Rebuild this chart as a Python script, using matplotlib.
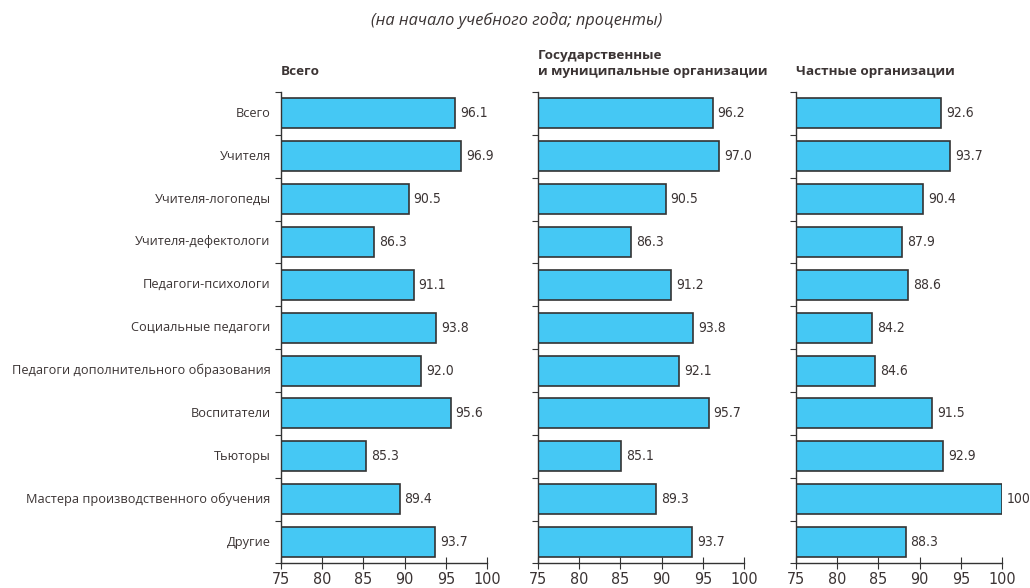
import matplotlib.pyplot as plt
from matplotlib.ticker import FixedLocator

categories = ['Всего', 'Учителя', 'Учителя-логопеды', 'Учителя-дефектологи',
              'Педагоги-психологи', 'Социальные педагоги',
              'Педагоги дополнительного образования', 'Воспитатели', 'Тьюторы',
              'Мастера производственного обучения', 'Другие']
total = [96.1, 96.9, 90.5, 86.3, 91.1, 93.8, 92.0, 95.6, 85.3, 89.4, 93.7]
state = [96.2, 97.0, 90.5, 86.3, 91.2, 93.8, 92.1, 95.7, 85.1, 89.3, 93.7]
private = [92.6, 93.7, 90.4, 87.9, 88.6, 84.2, 84.6, 91.5, 92.9, 100, 88.3]
panel_titles = ['Всего', 'Государственные\nи муниципальные организации', 'Частные организации']
x_ticks = [75, 80, 85, 90, 95, 100]

text_color = '#3b3434'
bar_color = '#45c8f4'
label_font = ['Open Sans', 'DejaVu Sans']

fig = plt.figure(figsize=(10.3, 5.88), dpi=100)
fig.text(0.502, 0.965, '(на начало учебного года; проценты)', ha='center', va='center',
         style='italic', fontsize=11.8, color=text_color, family=label_font)

lefts = [0.2728, 0.5223, 0.7728]
for k, (vals, title) in enumerate(zip([total, state, private], panel_titles)):
    ax = fig.add_axes([lefts[k], 0.0417, 0.2, 0.802])
    y = range(len(categories))
    ax.barh(y, vals, height=0.7, color=bar_color, edgecolor='#333333', linewidth=1.2)
    ax.set_xlim(75, 100)
    ax.set_ylim(len(categories) - 0.5, -0.5)
    for i, v in enumerate(vals):
        s = '100' if v == 100 else f'{v:.1f}'
        ax.text(v + 0.6, i, s, va='center', ha='left', fontsize=10,
                color=text_color, family='DejaVu Sans', fontstretch='condensed')
    for side in ['top', 'right']:
        ax.spines[side].set_visible(False)
    for side in ['left', 'bottom']:
        ax.spines[side].set_color('#333333')
        ax.spines[side].set_linewidth(1.0)
    ax.yaxis.set_major_locator(FixedLocator([i - 0.5 for i in range(len(categories) + 1)]))
    ax.set_yticklabels([])
    ax.tick_params(axis='y', length=4, color='#333333')
    ax.set_xticks(x_ticks)
    ax.tick_params(axis='x', direction='inout', length=8, color='#333333',
                   labelsize=11.5, labelcolor=text_color, pad=2)
    for lab in ax.get_xticklabels():
        lab.set_family('DejaVu Sans')
        lab.set_fontstretch('condensed')
    if k == 0:
        for i, c in enumerate(categories):
            ax.text(-0.05, i, c, transform=ax.get_yaxis_transform(), ha='right',
                    va='center', fontsize=9.2, color=text_color, family=label_font)
    ax.text(0.0, 1.03, title, transform=ax.transAxes, ha='left', va='bottom',
            fontsize=9.7, fontweight='bold', color=text_color, family=label_font,
            linespacing=1.25)

fig.savefig('out.png', dpi=100)
